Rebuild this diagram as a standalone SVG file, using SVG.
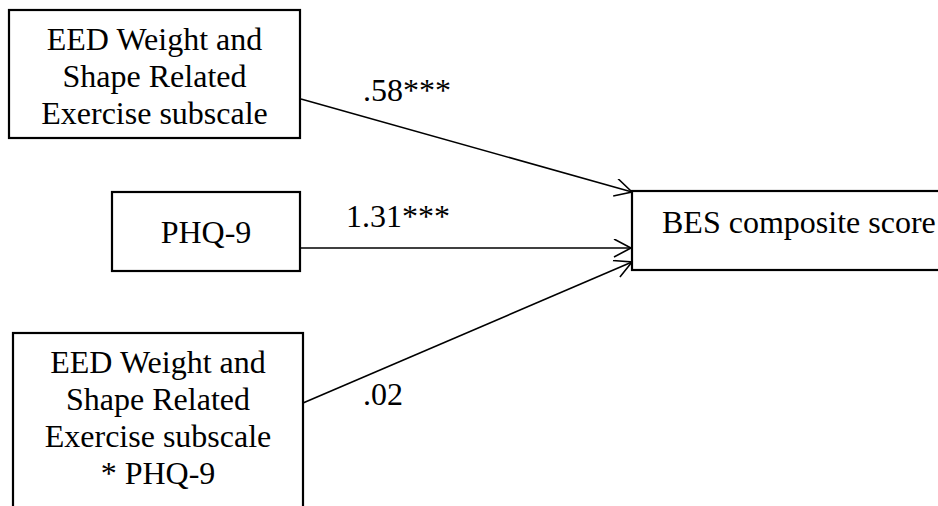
<svg xmlns="http://www.w3.org/2000/svg" width="938" height="506" viewBox="0 0 938 506">
  <style>
    .box { fill: #fff; stroke: #000; stroke-width: 2.2; }
    .lbl { font-family: "Liberation Serif", "Times New Roman", serif; font-size: 32px; fill: #000; }
    .mid { text-anchor: middle; }
    .edge { stroke: #000; stroke-width: 1.6; fill: none; }
  </style>
  <defs>
    <marker id="arrow" viewBox="0 0 20 20" markerWidth="20" markerHeight="20" refX="18" refY="9" orient="auto" markerUnits="userSpaceOnUse">
      <path d="M1,0 L18,9 L1,18" fill="none" stroke="#000" stroke-width="1.6"/>
    </marker>
  </defs>

  <rect width="938" height="506" fill="#fff"/>

  <g id="connectors">
    <line class="edge" x1="301" y1="99" x2="632" y2="192" marker-end="url(#arrow)"/>
    <line class="edge" x1="300" y1="248" x2="631" y2="248" marker-end="url(#arrow)"/>
    <line class="edge" x1="303" y1="403" x2="632" y2="262" marker-end="url(#arrow)"/>
    <text class="lbl" x="363" y="101">.58***</text>
    <text class="lbl" x="346" y="227">1.31***</text>
    <text class="lbl" x="363" y="405">.02</text>
  </g>

  <g id="node-eed">
    <rect class="box" x="9" y="10" width="291" height="128"/>
    <text class="lbl mid" x="154.5" y="50">EED Weight and</text>
    <text class="lbl mid" x="154.5" y="87">Shape Related</text>
    <text class="lbl mid" x="154.5" y="124">Exercise subscale</text>
  </g>

  <g id="node-phq">
    <rect class="box" x="112" y="192" width="188" height="79"/>
    <text class="lbl mid" x="206" y="243">PHQ-9</text>
  </g>

  <g id="node-interaction">
    <rect class="box" x="13" y="333" width="290" height="200"/>
    <text class="lbl mid" x="158" y="373">EED Weight and</text>
    <text class="lbl mid" x="158" y="410">Shape Related</text>
    <text class="lbl mid" x="158" y="447">Exercise subscale</text>
    <text class="lbl mid" x="158" y="484">* PHQ-9</text>
  </g>

  <g id="node-bes">
    <rect class="box" x="632" y="191" width="340" height="79"/>
    <text class="lbl" x="662" y="233">BES composite score</text>
  </g>
</svg>
